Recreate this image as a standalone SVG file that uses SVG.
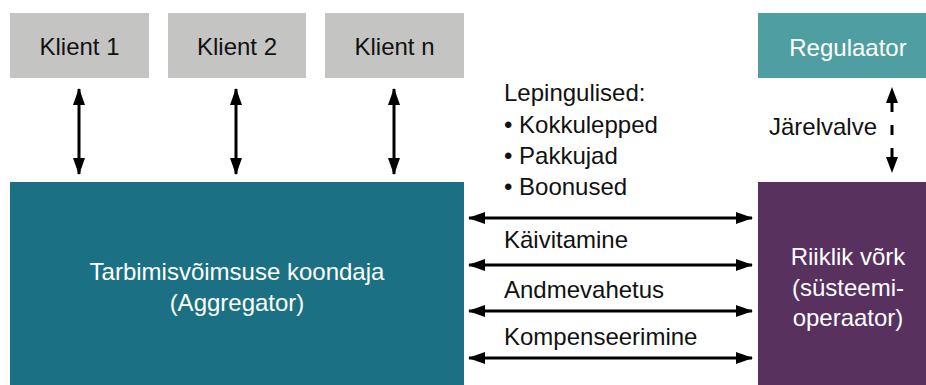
<svg xmlns="http://www.w3.org/2000/svg" width="926" height="385" viewBox="0 0 926 385">
<style>
text{font-family:"Liberation Sans",Arial,sans-serif;font-size:24px;fill:#111}
.w{fill:#fff}
.c{text-anchor:middle}
.ln{stroke:#000;stroke-width:3;fill:none}
.hd{fill:#000}
</style>
<defs>
<marker id="ah" viewBox="0 0 17 12" refX="16" refY="6" markerWidth="17" markerHeight="12" markerUnits="userSpaceOnUse" orient="auto-start-reverse">
<path d="M0,0 L17,6 L0,12 Z" class="hd"/>
</marker>
</defs>
<rect width="926" height="385" fill="#fff"/>
<g id="klient1"><rect x="10" y="13" width="139" height="65" fill="#c4c4c3"/><text x="79.5" y="55" class="c">Klient 1</text></g>
<g id="klient2"><rect x="168" y="13" width="138" height="65" fill="#c4c4c3"/><text x="237" y="55" class="c">Klient 2</text></g>
<g id="klientn"><rect x="325" y="13" width="139" height="65" fill="#c4c4c3"/><text x="394.5" y="55" class="c">Klient n</text></g>
<g id="regulaator"><rect x="758" y="13" width="168" height="65" fill="#4f9ea1"/><text x="848" y="56" class="c w">Regulaator</text></g>
<g id="aggregator"><rect x="10" y="182" width="454" height="203" fill="#1b7183"/><text x="237" y="280" class="c w">Tarbimisvõimsuse koondaja</text><text x="237" y="311" class="c w">(Aggregator)</text></g>
<g id="riiklik"><rect x="758" y="182" width="168" height="203" fill="#58315f"/><text x="848" y="265" class="c w">Riiklik võrk</text><text x="848" y="296" class="c w">(süsteemi-</text><text x="848" y="326" class="c w">operaator)</text></g>
<g id="connectors">
<line x1="79" y1="89" x2="79" y2="174" class="ln" marker-start="url(#ah)" marker-end="url(#ah)"/>
<line x1="236" y1="89" x2="236" y2="174" class="ln" marker-start="url(#ah)" marker-end="url(#ah)"/>
<line x1="394" y1="89" x2="394" y2="174" class="ln" marker-start="url(#ah)" marker-end="url(#ah)"/>
<line x1="469" y1="218" x2="752" y2="218" class="ln" marker-start="url(#ah)" marker-end="url(#ah)"/>
<line x1="469" y1="265" x2="752" y2="265" class="ln" marker-start="url(#ah)" marker-end="url(#ah)"/>
<line x1="469" y1="311" x2="752" y2="311" class="ln" marker-start="url(#ah)" marker-end="url(#ah)"/>
<line x1="469" y1="358" x2="752" y2="358" class="ln" marker-start="url(#ah)" marker-end="url(#ah)"/>
<path d="M892,100 V112 M892,125 V135 M892,148 V160" class="ln"/>
<path d="M892,87 L898,103 L886,103 Z M892,173 L898,157 L886,157 Z" class="hd"/>
</g>
<g id="labels">
<text x="504" y="101">Lepingulised:</text>
<text x="504" y="133">• Kokkulepped</text>
<text x="504" y="164">• Pakkujad</text>
<text x="504" y="195">• Boonused</text>
<text x="504" y="248">Käivitamine</text>
<text x="504" y="298">Andmevahetus</text>
<text x="504" y="345">Kompenseerimine</text>
<text x="877" y="135" text-anchor="end">Järelvalve</text>
</g>
</svg>
